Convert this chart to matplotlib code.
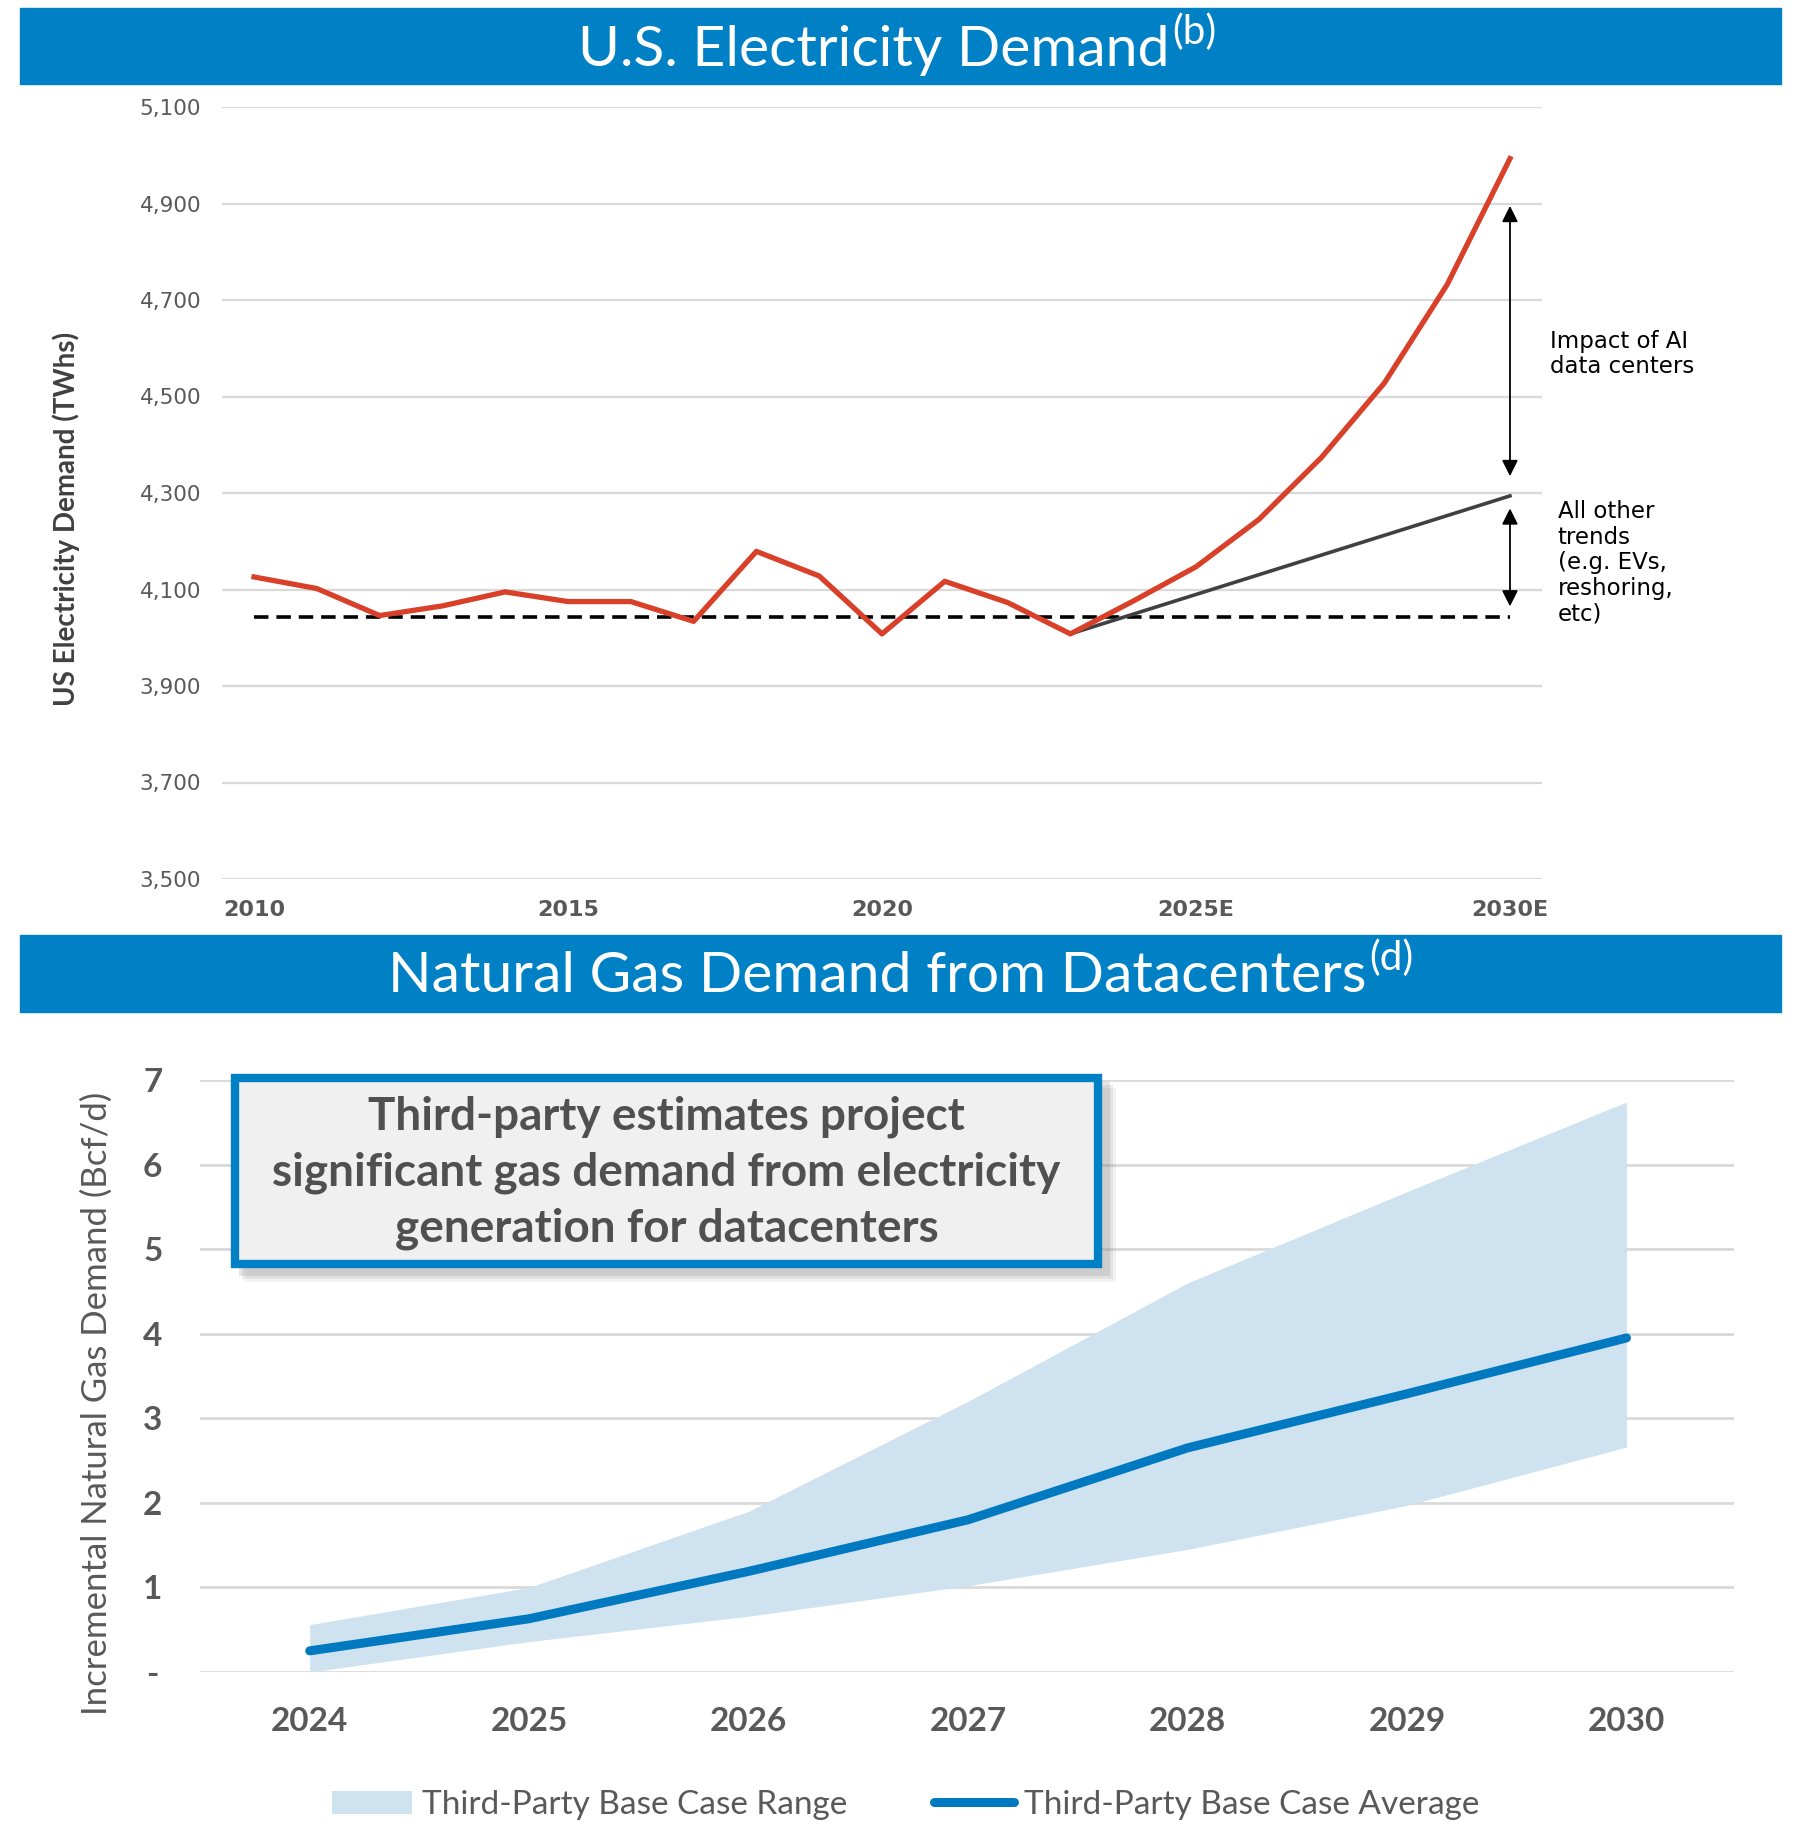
"""
Two stacked panels: US electricity demand with AI data center uplift,
and incremental natural gas demand from datacenters.
"""

import numpy as np
import matplotlib
matplotlib.use("Agg")
import matplotlib.pyplot as plt
from matplotlib.patches import Rectangle

# settings
W, H = 1804, 1828
BLUE = "#0081C6"
GRAY_TXT = "#595959"
GRID = "#D9D9D9"

# data - electricity demand (TWh)
elec_years = list(range(2010, 2031))
elec_demand = [4126, 4102, 4046, 4066, 4095, 4075, 4075, 4034, 4179, 4128,
               4008, 4117, 4073, 4008, 4076, 4147, 4245, 4374, 4528, 4732, 4993]
trend_years = [2023, 2030]
trend_demand = [4008, 4294]
baseline_demand = 4042
elec_ticks = [2010, 2015, 2020, 2025, 2030]
elec_tick_labels = ["2010", "2015", "2020", "2025E", "2030E"]
elec_yticks = [3500, 3700, 3900, 4100, 4300, 4500, 4700, 4900, 5100]
ai_arrow = [4895, 4335]
other_arrow = [4268, 4065]

# data - natural gas demand from datacenters (Bcf/d)
gas_years = [2024, 2025, 2026, 2027, 2028, 2029, 2030]
gas_avg = [0.25, 0.63, 1.19, 1.80, 2.65, 3.29, 3.95]
gas_high = [0.56, 1.00, 1.90, 3.20, 4.60, 5.68, 6.74]
gas_low = [0.00, 0.36, 0.66, 1.02, 1.45, 1.97, 2.66]
gas_yticks = [0, 1, 2, 3, 4, 5, 6, 7]
gas_ytick_labels = ["-", "1", "2", "3", "4", "5", "6", "7"]


def fx(x):
    return x / W


def fy(y):
    return 1 - y / H


def banner(fig, y0, y1, title, sup, x_end, base, sup_base):
    fig.patches.append(Rectangle((fx(20), fy(y1)), fx(1761), (y1 - y0) / H,
                                 transform=fig.transFigure, color=BLUE, zorder=0))
    fig.text(fx(x_end), fy(base), title, ha="right", va="baseline",
             color="white", fontsize=41, family="Lato")
    fig.text(fx(x_end + 2), fy(sup_base), sup, ha="left", va="baseline",
             color="white", fontsize=29, family="Lato")


fig = plt.figure(figsize=(W / 100, H / 100), dpi=100)

# banners
banner(fig, 8, 84, "U.S. Electricity Demand", "(b)", 1170, 66, 44)
banner(fig, 935, 1012, "Natural Gas Demand from Datacenters", "(d)", 1367, 992, 970)

# ---------------- top panel ----------------
ax1 = fig.add_axes([fx(222), fy(879), fx(1320), 772 / H])
ax1.set_xlim(2009.49, 2030.51)
ax1.set_ylim(3500, 5100)
for s in ax1.spines.values():
    s.set_visible(False)
ax1.set_yticks(elec_yticks)
ax1.set_yticklabels([f"{v:,}" for v in elec_yticks])
ax1.set_xticks(elec_ticks)
ax1.set_xticklabels(elec_tick_labels)
ax1.tick_params(axis="y", length=0, pad=15, labelsize=15.5, labelcolor=GRAY_TXT)
ax1.tick_params(axis="x", length=0, pad=15, labelsize=16, labelcolor=GRAY_TXT)
for lab in ax1.get_xticklabels():
    lab.set_fontweight("bold")
ax1.grid(axis="y", color=GRID, lw=1.6)
ax1.set_axisbelow(True)

ax1.plot([2010, 2030], [baseline_demand] * 2, color="black", lw=2.6,
         dashes=(4, 2.2), zorder=3)
ax1.plot(trend_years, trend_demand, color="#404040", lw=2.6, zorder=3)
ax1.plot(elec_years, elec_demand, color="#D9402A", lw=3.8, zorder=4)

arrow_kw = dict(arrowstyle="<|-|>", color="black", lw=1.3, mutation_scale=24,
                shrinkA=0, shrinkB=0)
ax1.annotate("", xy=(2030, ai_arrow[0]), xytext=(2030, ai_arrow[1]), arrowprops=arrow_kw)
ax1.annotate("", xy=(2030, other_arrow[0]), xytext=(2030, other_arrow[1]), arrowprops=arrow_kw)
ax1.text(2030.63, 4588, "Impact of AI\ndata centers", ha="left", va="center",
         fontsize=16.5, color="black", linespacing=1.15, clip_on=False)
ax1.text(2030.76, 4155, "All other\ntrends\n(e.g. EVs,\nreshoring,\netc)", ha="left",
         va="center", fontsize=16.5, color="black", linespacing=1.15, clip_on=False)

fig.text(fx(66), fy(519), "US Electricity Demand (TWhs)", rotation=90, ha="center",
         va="center", fontsize=20, fontweight="bold", family="Lato", color="#404040")

# ---------------- bottom panel ----------------
ax2 = fig.add_axes([fx(200), fy(1672), fx(1534), 592 / H])
ax2.set_xlim(2023.5, 2030.49)
ax2.set_ylim(0, 7)
for s in ax2.spines.values():
    s.set_visible(False)
ax2.set_yticks(gas_yticks)
ax2.set_yticklabels(gas_ytick_labels)
ax2.set_xticks(gas_years)
ax2.tick_params(axis="y", length=0, pad=34, labelsize=24, labelcolor=GRAY_TXT)
ax2.tick_params(axis="x", length=0, pad=25, labelsize=24, labelcolor=GRAY_TXT)
for lab in ax2.get_xticklabels() + ax2.get_yticklabels():
    lab.set_fontweight("bold")
    lab.set_family("Lato")
for lab in ax2.get_yticklabels():
    lab.set_horizontalalignment("center")
ax2.grid(axis="y", color=GRID, lw=2)
ax2.set_axisbelow(True)

ax2.fill_between(gas_years, gas_low, gas_high, color="#CFE2EF", lw=0,
                 label="Third-Party Base Case Range", zorder=2)
ax2.plot(gas_years, gas_avg, color="#0079C1", lw=6.5, solid_capstyle="round",
         label="Third-Party Base Case Average", zorder=3)

fig.text(fx(97), fy(1403), "Incremental Natural Gas Demand (Bcf/d)", rotation=90,
         ha="center", va="center", fontsize=25, family="Lato", color=GRAY_TXT)

leg = ax2.legend(loc="center", bbox_to_anchor=(fx(906), fy(1805)),
                 bbox_transform=fig.transFigure, ncol=2, frameon=False,
                 prop={"family": "Lato", "size": 24}, handlelength=2.4,
                 handletextpad=0.3, columnspacing=2.6)
for t in leg.get_texts():
    t.set_color(GRAY_TXT)

# callout box with shadow
bx0, bx1, by0, by1 = 231, 1102, 1074, 1268
for off, alpha in [(14, 0.10), (11, 0.15), (8, 0.2)]:
    fig.patches.append(Rectangle((fx(bx0 + off), fy(by1 + off)), fx(bx1 - bx0),
                                 (by1 - by0) / H, transform=fig.transFigure,
                                 facecolor="#808080", edgecolor="none", alpha=alpha, zorder=5))
fig.patches.append(Rectangle((fx(bx0 + 4), fy(by1 - 4)), fx(bx1 - bx0 - 8),
                             (by1 - by0 - 8) / H, transform=fig.transFigure,
                             facecolor="#F0F0F0", edgecolor=BLUE, lw=6, zorder=6))
fig.text(fx((bx0 + bx1) / 2), fy((by0 + by1) / 2 + 2),
         "Third-party estimates project\nsignificant gas demand from electricity\ngeneration for datacenters",
         ha="center", va="center", fontsize=33, fontweight="bold", family="Lato",
         color="#505050", linespacing=1.4, zorder=7)

fig.savefig("out.png", dpi=100)
